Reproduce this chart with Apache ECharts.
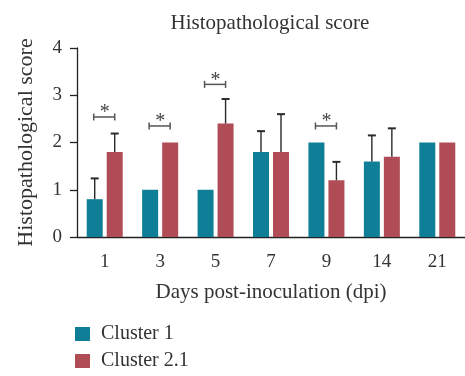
<!DOCTYPE html>
<html>
<head>
<meta charset="utf-8">
<script src="https://cdn.jsdelivr.net/npm/echarts@6/dist/echarts.min.js"></script>
<style>
  html, body { margin: 0; padding: 0; background: #fff; }
  #chart { width: 465px; height: 376px; }
</style>
</head>
<body>
<div id="chart"></div>
<script>
// Days post-inoculation
const days = ['1', '3', '5', '7', '9', '14', '21'];

// Mean histopathological scores per cluster
const cluster1 = [0.8, 1, 1, 1.8, 2, 1.6, 2];
const cluster21 = [1.8, 2, 2.4, 1.8, 1.2, 1.7, 2];

// Upper error (SD) per cluster
const cluster1Err = [0.44, 0, 0, 0.44, 0, 0.55, 0];
const cluster21Err = [0.39, 0, 0.52, 0.8, 0.39, 0.6, 0];

// Significance brackets: [day index, height on score scale]
const sigBrackets = [[0, 2.54], [1, 2.35], [2, 3.23], [4, 2.35]];

const yTicks = [0, 1, 2, 3, 4];

const FONT = 'Liberation Serif';
const TEAL = '#0e7f97';
const RED = '#b04c55';
const BAR_W = 16;
const BAR_OFF = 10;

const chart = echarts.init(document.getElementById('chart'));

function errorRender(offset, values, errs) {
  return function (params, api) {
    const i = api.value(0);
    const err = errs[i];
    if (!err) return null;
    const base = api.coord([i, values[i]]);
    const top = api.coord([i, values[i] + err]);
    const x = base[0] + offset;
    return {
      type: 'group',
      children: [
        { type: 'line', shape: { x1: x, y1: base[1], x2: x, y2: top[1] },
          style: { stroke: '#2a2a2a', lineWidth: 1.4 } },
        { type: 'line', shape: { x1: x - 4, y1: top[1], x2: x + 4, y2: top[1] },
          style: { stroke: '#2a2a2a', lineWidth: 2 } }
      ]
    };
  };
}

const option = {
  animation: false,
  backgroundColor: '#fff',
  title: {
    text: 'Histopathological score',
    left: 270,
    top: 13,
    padding: 0,
    textAlign: 'center',
    textStyle: { fontFamily: FONT, fontSize: 21, fontWeight: 'normal', color: '#333' }
  },
  legend: {
    orient: 'vertical',
    left: 75,
    top: 324,
    padding: 0,
    itemWidth: 15,
    itemHeight: 14,
    itemGap: 7,
    icon: 'rect',
    textStyle: { fontFamily: FONT, fontSize: 20, color: '#333', padding: [0, 0, 0, 6] },
    data: ['Cluster 1', 'Cluster 2.1']
  },
  grid: { left: 77, top: 48, width: 390, height: 189 },
  xAxis: {
    type: 'category',
    data: days,
    name: 'Days post-inoculation (dpi)',
    nameLocation: 'middle',
    nameGap: 45,
    nameTextStyle: { fontFamily: FONT, fontSize: 21, color: '#333' },
    axisLine: { lineStyle: { color: '#222', width: 1.3 } },
    axisTick: { alignWithLabel: true, length: 7, lineStyle: { color: '#222', width: 1.3 } },
    axisLabel: { fontFamily: FONT, fontSize: 19, color: '#333', margin: 16 }
  },
  yAxis: {
    type: 'value',
    min: yTicks[0],
    max: yTicks[yTicks.length - 1],
    interval: 1,
    name: 'Histopathological score',
    nameLocation: 'middle',
    nameGap: 40,
    nameTextStyle: { fontFamily: FONT, fontSize: 22, color: '#333' },
    axisLine: { show: true, lineStyle: { color: '#222', width: 1.3 } },
    axisTick: { show: true, length: 7, lineStyle: { color: '#222', width: 1.3 } },
    axisLabel: { fontFamily: FONT, fontSize: 19, color: '#333', margin: 15 },
    splitLine: { show: false }
  },
  series: [
    {
      name: 'Cluster 1', type: 'bar', data: cluster1,
      barWidth: BAR_W, barGap: '25%',
      itemStyle: { color: TEAL }
    },
    {
      name: 'Cluster 2.1', type: 'bar', data: cluster21,
      barWidth: BAR_W, barGap: '25%',
      itemStyle: { color: RED }
    },
    {
      type: 'custom', z: 5,
      data: days.map((d, i) => [i]),
      renderItem: errorRender(-BAR_OFF, cluster1, cluster1Err)
    },
    {
      type: 'custom', z: 5,
      data: days.map((d, i) => [i]),
      renderItem: errorRender(BAR_OFF, cluster21, cluster21Err)
    },
    {
      type: 'custom', z: 6,
      data: sigBrackets,
      renderItem: function (params, api) {
        const p = api.coord([api.value(0), api.value(1)]);
        const x1 = p[0] - BAR_OFF - 1, x2 = p[0] + BAR_OFF;
        const y = p[1];
        const st = { stroke: '#555', lineWidth: 1.5 };
        return {
          type: 'group',
          children: [
            { type: 'line', shape: { x1: x1, y1: y, x2: x2, y2: y }, style: st },
            { type: 'line', shape: { x1: x1, y1: y - 3.5, x2: x1, y2: y + 3.5 }, style: st },
            { type: 'line', shape: { x1: x2, y1: y - 3.5, x2: x2, y2: y + 3.5 }, style: st },
            { type: 'text', x: p[0], y: y - 14,
              style: { text: '*', fontFamily: FONT, fontSize: 20, fill: '#444',
                       textAlign: 'center', textVerticalAlign: 'top' } }
          ]
        };
      }
    }
  ]
};

chart.setOption(option);
</script>
</body>
</html>
